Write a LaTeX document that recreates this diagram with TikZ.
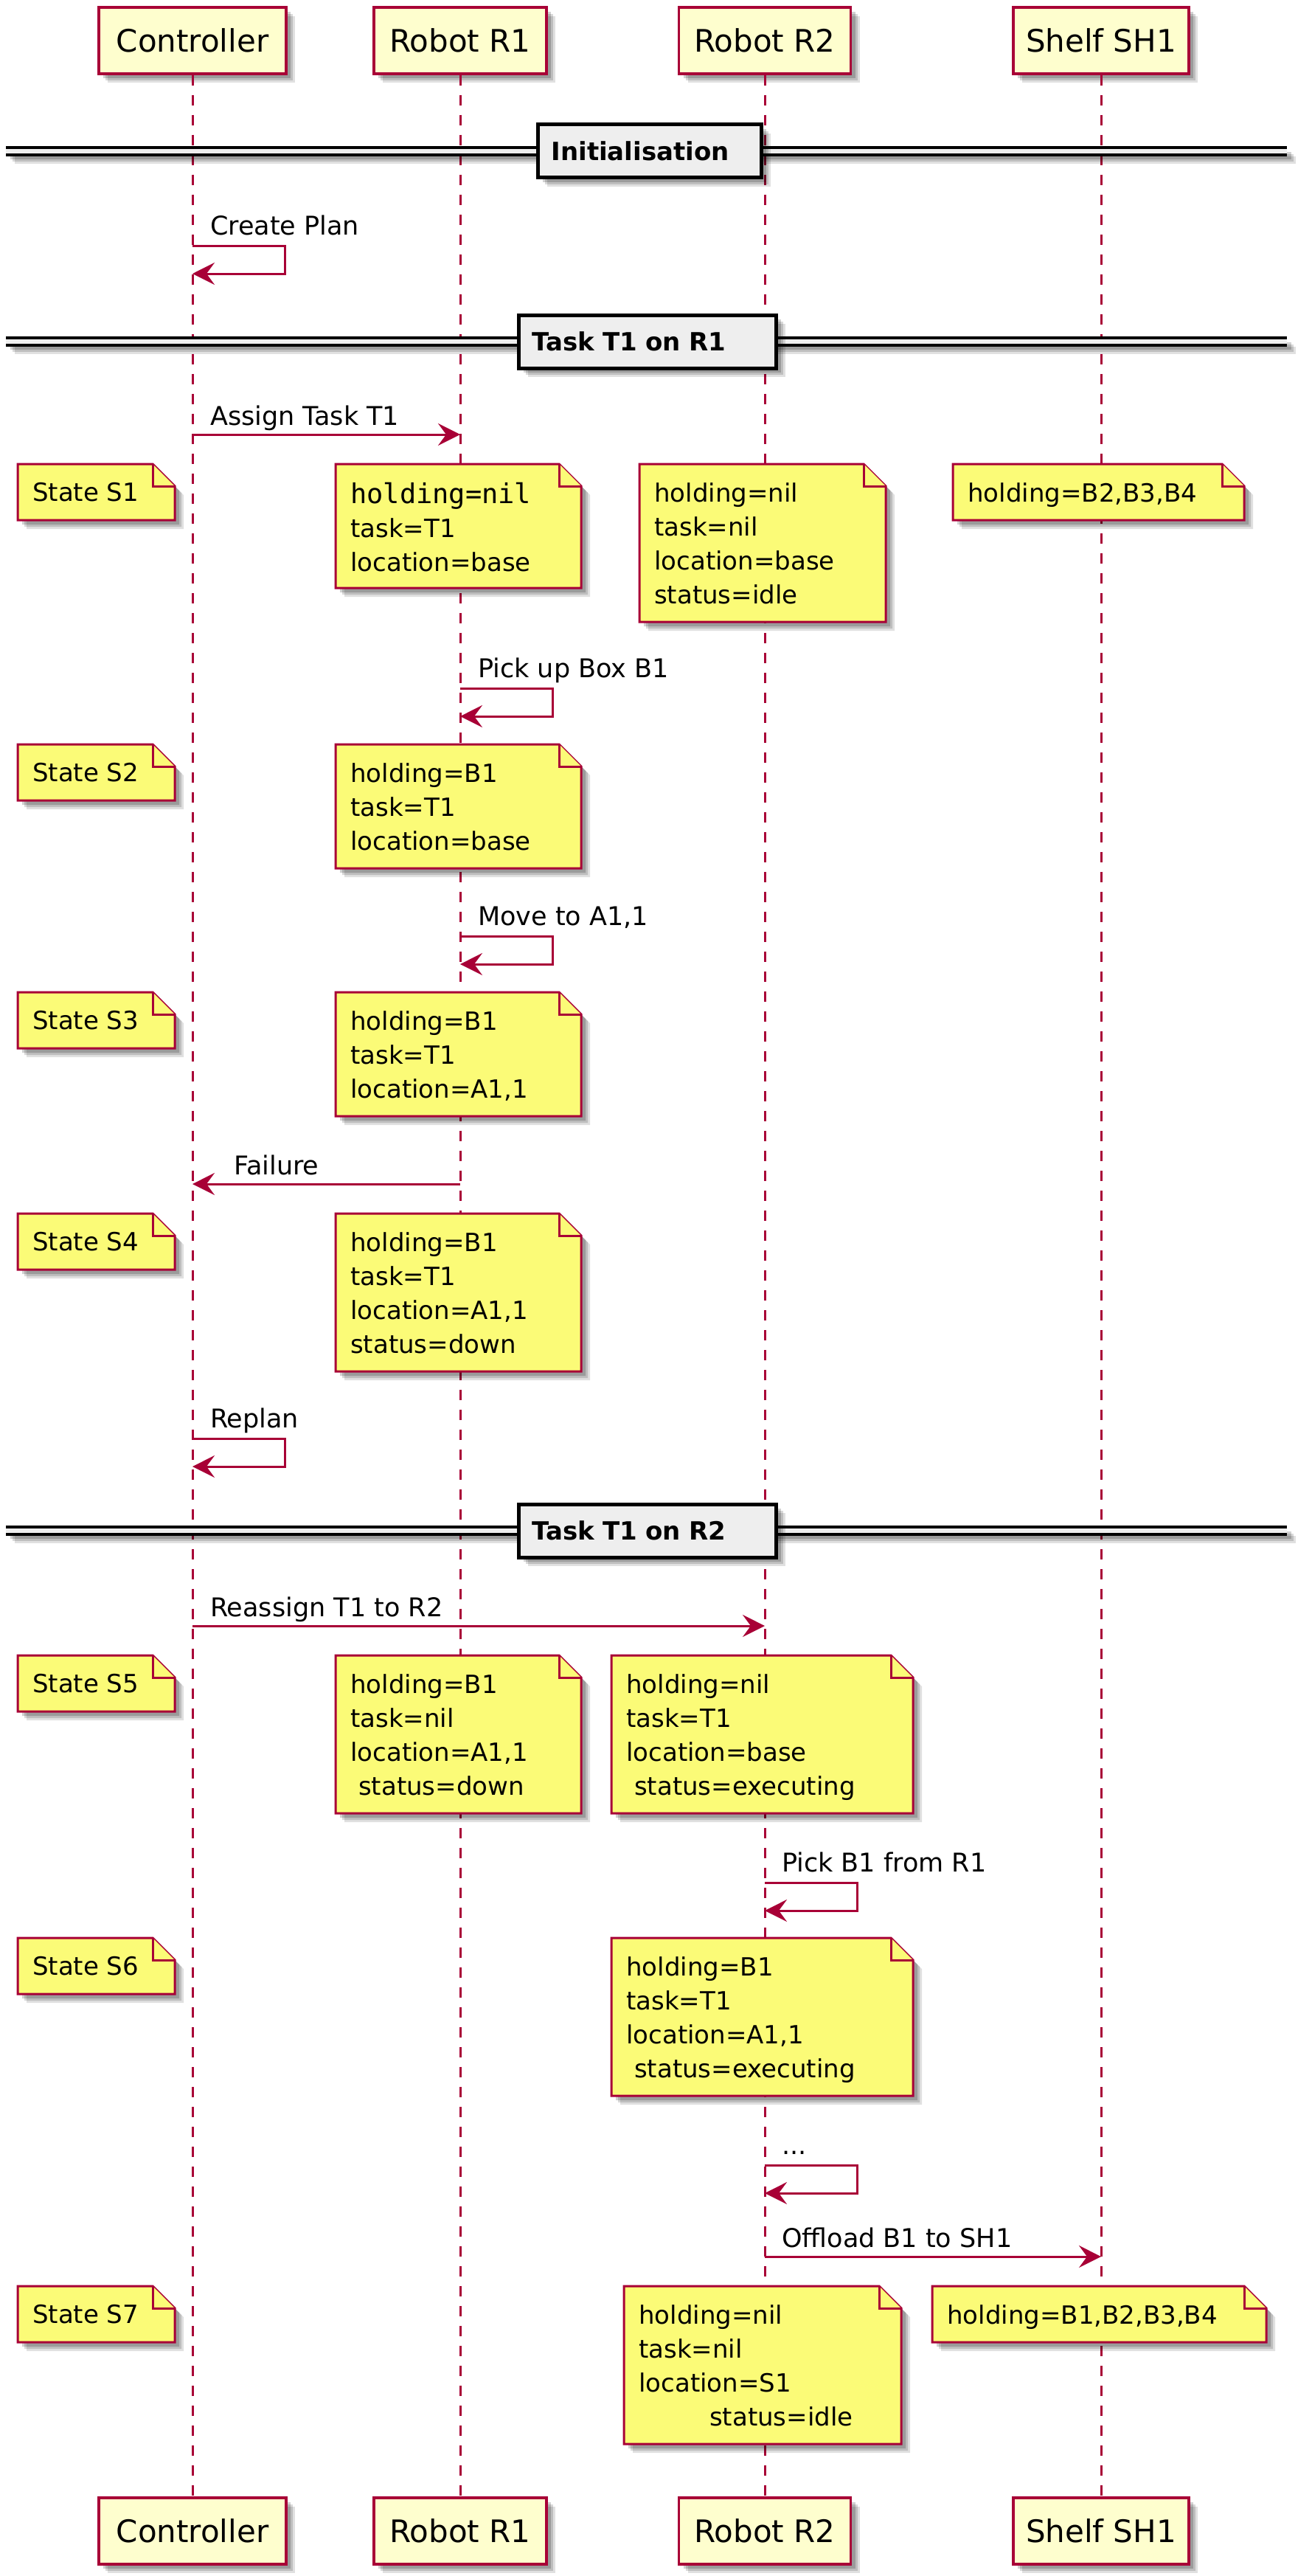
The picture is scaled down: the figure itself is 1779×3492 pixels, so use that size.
\documentclass[tikz,border=0pt]{standalone}
\usepackage{fontspec}
\setmainfont{DejaVu Sans}
\newfontfamily\monof{DejaVu Sans Mono}
\usetikzlibrary{arrows.meta,shadows}
\definecolor{pum}{HTML}{A80036}
\definecolor{notey}{HTML}{FBFB77}
\definecolor{partc}{HTML}{FEFECE}
\definecolor{divg}{HTML}{EEEEEE}
\tikzset{
  shad/.style={general shadow={shadow xshift=12pt,shadow yshift=-12pt,fill=black,opacity=0.12},
               general shadow={shadow xshift=9pt,shadow yshift=-9pt,fill=black,opacity=0.15},
               general shadow={shadow xshift=6pt,shadow yshift=-6pt,fill=black,opacity=0.18}},
  part/.style={draw=pum, fill=partc, line width=3.5pt, minimum height=90pt, inner sep=0pt,
               font=\fontsize{42}{50}\selectfont, shad},
  life/.style={draw=pum, line width=3pt, dash pattern=on 14pt off 13pt},
  msg/.style={draw=pum, line width=3pt, -{Stealth[length=30pt,width=30pt,inset=11pt]}},
  msgtext/.style={anchor=base west, inner sep=0pt, font=\fontsize{35}{42}\selectfont},
  notebody/.style={draw=pum, fill=notey, line width=3pt, line join=miter, shad},
  notefold/.style={draw=pum, fill=notey, line width=3pt},
  notetext/.style={anchor=north west, inner sep=0pt, align=left, font=\fontsize{34}{46}\selectfont},
  divband/.style={fill=divg, draw=none, shad},
  divline/.style={draw=black, line width=3.5pt},
  divbox/.style={draw=black, fill=divg, line width=5pt, inner ysep=0pt, inner xsep=18pt,
                 minimum height=72pt, anchor=west, align=left,
                 font=\bfseries\fontsize{34}{40}\selectfont, shad},
}
\newcommand\stnote[6]{%
  \pgfmathsetmacro\ybot{#3+46*#5+30}%
  \path[notebody] (#2,#3) -- (#4-30,#3) -- (#4,#3+30) -- (#4,\ybot) -- (#2,\ybot) -- cycle;
  \path[notefold] (#4-30,#3) -- (#4-30,#3+30) -- (#4,#3+30);
  \node[notetext] (#1) at (#2+20,#3+25) {#6};
}
\newcommand\divider[5]{% name, y, box x, text width, text
  \coordinate (#1l) at (8,#2);
  \coordinate (#1r) at (1745,#2);
  \path[divband] ([yshift=5pt]#1l) rectangle ([yshift=-5pt]#1r);
  \draw[divline] ([yshift=5pt]#1l) -- ([yshift=5pt]#1r);
  \draw[divline] ([yshift=-5pt]#1l) -- ([yshift=-5pt]#1r);
  \node[divbox, text width=#4pt] (#1) at (#3,#2) {#5};
}
\begin{document}
\begin{tikzpicture}[x=1pt,y=-1pt]
\useasboundingbox (0,0) rectangle (1779,3492);
\fill[white] (0,0) rectangle (1779,3492);

% participants (top)
\node[part, minimum width=254pt] (pc)  at (261,55) {Controller};
\node[part, minimum width=234pt] (pr1) at (624,55) {Robot R1};
\node[part, minimum width=233pt] (pr2) at (1037,55) {Robot R2};
\node[part, minimum width=238pt] (psh) at (1493,55) {Shelf SH1};
% participants (bottom)
\node[part, minimum width=254pt] (pcb)  at (261,3431) {Controller};
\node[part, minimum width=234pt] (pr1b) at (624,3431) {Robot R1};
\node[part, minimum width=233pt] (pr2b) at (1037,3431) {Robot R2};
\node[part, minimum width=238pt] (pshb) at (1493,3431) {Shelf SH1};

% lifelines
\draw[life] (pc.south) -- (pcb.north);
\draw[life] (pr1.south) -- (pr1b.north);
\draw[life] (pr2.south) -- (pr2b.north);
\draw[life] (psh.south) -- (pshb.north);

% dividers
\divider{dA}{205}{727}{267}{Initialisation}
\divider{dB}{463}{701}{313}{Task T1 on R1}
\divider{dC}{2075}{701}{313}{Task T1 on R2}

% messages
\node[msgtext] (mCP) at (285,318) {Create Plan};
\draw[msg] (pc |- 0,333) -- ++(125,0) -- ++(0,38) -- (pc |- 0,371);

\node[msgtext] (mAT) at (285,576) {Assign Task T1};
\draw[msg] (pc |- 0,589) -- (pr1 |- 0,589);

\node[msgtext] (mPU) at (648,918) {Pick up Box B1};
\draw[msg] (pr1 |- 0,933) -- ++(125,0) -- ++(0,38) -- (pr1 |- 0,971);

\node[msgtext] (mMV) at (648,1254) {Move to A1,1};
\draw[msg] (pr1 |- 0,1269) -- ++(125,0) -- ++(0,38) -- (pr1 |- 0,1307);

\node[msgtext] (mFL) at (317,1592) {Failure};
\draw[msg] (pr1 |- 0,1605) -- (pc |- 0,1605);

\node[msgtext] (mRP) at (285,1935) {Replan};
\draw[msg] (pc |- 0,1950) -- ++(125,0) -- ++(0,38) -- (pc |- 0,1988);

\node[msgtext] (mRA) at (285,2191) {Reassign T1 to R2};
\draw[msg] (pc |- 0,2204) -- (pr2 |- 0,2204);

\node[msgtext] (mPB) at (1060,2537) {Pick B1 from R1};
\draw[msg] (pr2 |- 0,2552) -- ++(125,0) -- ++(0,38) -- (pr2 |- 0,2590);

\node[msgtext] (mDT) at (1060,2920) {...};
\draw[msg] (pr2 |- 0,2935) -- ++(125,0) -- ++(0,38) -- (pr2 |- 0,2973);

\node[msgtext] (mOF) at (1060,3046) {Offload B1 to SH1};
\draw[msg] (pr2 |- 0,3059) -- (psh |- 0,3059);

% notes
\stnote{s1}{24}{629}{237}{1}{State S1}
\stnote{n1a}{455}{629}{788}{3}{{\monof\fontsize{37}{46}\selectfont holding=nil}\\task=T1\\location=base}
\stnote{n1b}{867}{629}{1201}{4}{holding=nil\\task=nil\\location=base\\status=idle}
\stnote{n1c}{1292}{629}{1687}{1}{holding=B2,B3,B4}

\stnote{s2}{24}{1009}{237}{1}{State S2}
\stnote{n2a}{455}{1009}{788}{3}{holding=B1\\task=T1\\location=base}

\stnote{s3}{24}{1345}{237}{1}{State S3}
\stnote{n3a}{455}{1345}{788}{3}{holding=B1\\task=T1\\location=A1,1}

\stnote{s4}{24}{1645}{237}{1}{State S4}
\stnote{n4a}{455}{1645}{788}{4}{holding=B1\\task=T1\\location=A1,1\\status=down}

\stnote{s5}{24}{2244}{237}{1}{State S5}
\stnote{n5a}{455}{2244}{788}{4}{holding=B1\\task=nil\\location=A1,1\\\hspace*{11pt}status=down}
\stnote{n5b}{829}{2244}{1238}{4}{holding=nil\\task=T1\\location=base\\\hspace*{11pt}status=executing}

\stnote{s6}{24}{2627}{237}{1}{State S6}
\stnote{n6b}{829}{2627}{1238}{4}{holding=B1\\task=T1\\location=A1,1\\\hspace*{11pt}status=executing}

\stnote{s7}{24}{3099}{237}{1}{State S7}
\stnote{n7b}{846}{3099}{1222}{4}{holding=nil\\task=nil\\location=S1\\\hspace*{96pt}status=idle}
\stnote{n7c}{1264}{3099}{1717}{1}{holding=B1,B2,B3,B4}
\end{tikzpicture}
\end{document}
